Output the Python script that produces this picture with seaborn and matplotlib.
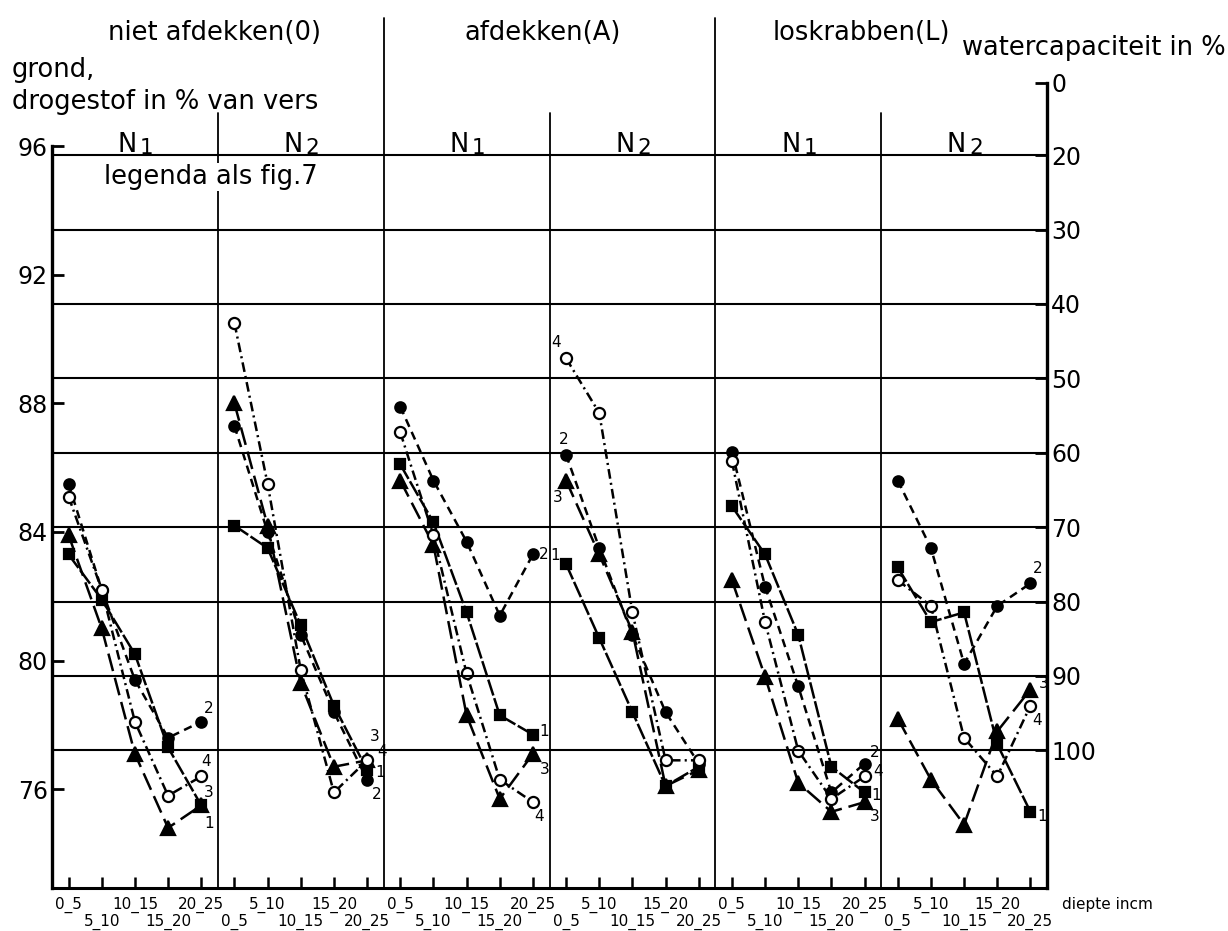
import numpy as np
import pandas as pd
import matplotlib
matplotlib.use("Agg")
import matplotlib.pyplot as plt
import matplotlib.transforms as mtransforms
import seaborn as sns

# ---- data -------------------------------------------------------------
depths = ["0_5", "5_10", "10_15", "15_20", "20_25"]
treatments = ["niet afdekken(0)", "afdekken(A)", "loskrabben(L)"]
n_levels = ["1", "2"]

# dry matter of the soil (% of fresh weight); one row per panel
# panel order: 0-N1, 0-N2, A-N1, A-N2, L-N1, L-N2 ; columns = depth layers
series_1 = [
    [83.3, 81.9, 80.2, 77.3, 75.5],
    [84.2, 83.5, 81.1, 78.6, 76.6],
    [86.1, 84.3, 81.5, 78.3, 77.7],
    [83.0, 80.7, 78.4, 76.1, 76.7],
    [84.8, 83.3, 80.8, 76.7, 75.9],
    [82.9, 81.2, 81.5, 77.4, 75.3],
]
series_2 = [
    [85.5, 82.2, 79.4, 77.6, 78.1],
    [87.3, 84.0, 80.8, 78.4, 76.3],
    [87.9, 85.6, 83.7, 81.4, 83.3],
    [86.4, 83.5, 80.8, 78.4, 76.8],
    [86.5, 82.3, 79.2, 75.9, 76.8],
    [85.6, 83.5, 79.9, 81.7, 82.4],
]
series_3 = [
    [83.9, 81.0, 77.1, 74.8, 75.5],
    [88.0, 84.2, 79.3, 76.7, 76.9],
    [85.6, 83.6, 78.3, 75.7, 77.1],
    [85.6, 83.3, 80.9, 76.1, 76.6],
    [82.5, 79.5, 76.2, 75.3, 75.6],
    [78.2, 76.3, 74.9, 77.8, 79.1],
]
series_4 = [
    [85.1, 82.2, 78.1, 75.8, 76.4],
    [90.5, 85.5, 79.7, 75.9, 76.9],
    [87.1, 83.9, 79.6, 76.3, 75.6],
    [89.4, 87.7, 81.5, 76.9, 76.9],
    [86.2, 81.2, 77.2, 75.7, 76.4],
    [82.5, 81.7, 77.6, 76.4, 78.6],
]

dm_ticks = [76, 80, 84, 88, 92, 96]
wc_ticks = [20, 30, 40, 50, 60, 70, 80, 90, 100]

# ---- long table ---------------------------------------------------------
rows = []
for sname, table in zip(["1", "2", "3", "4"], [series_1, series_2, series_3, series_4]):
    for p, vals in enumerate(table):
        for d, v in enumerate(vals):
            rows.append({"series": sname, "panel": p, "pos": p * 5 + d, "value": v})
df = pd.DataFrame(rows)

# ---- style --------------------------------------------------------------
sns.set_theme(style="white")
plt.rcParams["font.family"] = ["DejaVu Sans"]
plt.rcParams["mathtext.fontset"] = "dejavusans"
plt.rcParams["lines.scale_dashes"] = False
plt.rcParams["text.color"] = "black"
plt.rcParams["xtick.color"] = "black"
plt.rcParams["ytick.color"] = "black"

W, H = 1228, 931
fig = plt.figure(figsize=(W / 100, H / 100), dpi=100)
fig.patch.set_facecolor("white")

# axes box in pixels: left 52, right 1047, bottom 888, top 83
L, R, B, T = 52, 1047, 888, 83
ax = fig.add_axes([L / W, (H - B) / H, (R - L) / W, (B - T) / H])
ax.set_facecolor("white")

ax.set_xlim(-0.5, 29.5)
ax.set_ylim(72.93, 97.96)

line_styles = {
    "1": dict(marker="s", markersize=7.5, markerfacecolor="black", linestyle=(0, (12, 2))),
    "2": dict(marker="o", markersize=7.5, markerfacecolor="black", linestyle=(0, (6, 4))),
    "3": dict(marker="^", markersize=10, markerfacecolor="black", linestyle=(0, (13, 5))),
    "4": dict(marker="o", markersize=8, markerfacecolor="white", linestyle=(0, (7, 3, 1.5, 3))),
}
for sname, kw in line_styles.items():
    sns.lineplot(
        data=df[df["series"] == sname], x="pos", y="value", units="panel",
        estimator=None, color="black", linewidth=1.8,
        markeredgecolor="black", markeredgewidth=1.6, ax=ax, zorder=5, **kw,
    )

# series numbers written next to a curve end
label_spots = [
    (0, "2", 4, 7, 13), (0, "4", 4, 5, 15), (0, "3", 4, 7, 13), (0, "1", 4, 8, -18),
    (1, "3", 4, 8, 24), (1, "4", 4, 15, 9), (1, "1", 4, 13, -3), (1, "2", 4, 10, -15),
    (2, "2", 4, 11, 0), (2, "1", 4, 11, 3), (2, "3", 4, 12, -16), (2, "4", 4, 6, -14),
    (3, "4", 0, -10, 16), (3, "2", 0, -2, 15), (3, "3", 0, -8, -17), (3, "1", 0, -11, 9),
    (4, "2", 4, 10, 11), (4, "4", 4, 13, 5), (4, "1", 4, 12, -3), (4, "3", 4, 10, -14),
    (5, "2", 4, 7, 15), (5, "3", 4, 13, 6), (5, "4", 4, 7, -15), (5, "1", 4, 12, -5),
]
tables = {"1": series_1, "2": series_2, "3": series_3, "4": series_4}
for p, s, d, dx, dy in label_spots:
    ax.annotate(s, xy=(p * 5 + d, tables[s][p][d]), xytext=(dx, dy),
                textcoords="offset pixels", ha="center", va="center",
                fontsize=11, zorder=6)

# ---- axes and frame -------------------------------------------------------
ax.set_xlabel("")
ax.set_ylabel("")
if ax.legend_ is not None:
    ax.legend_.remove()
for side in ["top", "right"]:
    ax.spines[side].set_visible(False)
ax.spines["left"].set_linewidth(2.4)
ax.spines["bottom"].set_linewidth(2.2)
ax.spines["left"].set_color("black")
ax.spines["bottom"].set_color("black")
ax.spines["left"].set_bounds(72.93, 96)

ax.set_yticks(dm_ticks)
ax.set_yticklabels([str(t) for t in dm_ticks])
ax.tick_params(axis="y", direction="in", length=8.5, width=2, labelsize=17,
               pad=3, colors="black", left=True)

# depth labels alternate between two rows
even_pos = list(range(0, 30, 2))
odd_pos = list(range(1, 30, 2))
ax.set_xticks(even_pos)
ax.set_xticklabels([depths[i % 5] for i in even_pos])
ax.set_xticks(odd_pos, minor=True)
ax.set_xticklabels([depths[i % 5] for i in odd_pos], minor=True)
ax.tick_params(axis="x", which="both", direction="in", length=8, width=1.8,
               labelsize=11, colors="black", bottom=True)
ax.tick_params(axis="x", which="major", pad=6)
ax.tick_params(axis="x", which="minor", pad=18.5)

# water-capacity scale on the right (broken between 0 and 20)
wc_axis_top = 10.3
ax2 = ax.twinx()
ax2.set_ylim(118.5, wc_axis_top)
for side in ["top", "left", "bottom"]:
    ax2.spines[side].set_visible(False)
ax2.spines["right"].set_linewidth(2.4)
ax2.spines["right"].set_color("black")
ax2.set_yticks([wc_axis_top] + wc_ticks)
ax2.set_yticklabels(["0"] + [str(t) for t in wc_ticks])
ax2.tick_params(axis="y", direction="in", length=8.5, width=2, labelsize=17,
                pad=3, colors="black", right=True)
ax2.grid(False)
ax.grid(False)
for w in wc_ticks:
    ax2.axhline(w, color="black", linewidth=1.5, zorder=1)

# panel separators
blend = mtransforms.blended_transform_factory(ax.transData, ax.transAxes)
for xs in [4.5, 14.5, 24.5]:
    ax.axvline(xs, ymin=0, ymax=(B - 113) / (B - T), color="black",
               linewidth=1.3, clip_on=False)
for xs in [9.5, 19.5]:
    ax.axvline(xs, ymin=0, ymax=(B - 18) / (B - T), color="black",
               linewidth=1.3, clip_on=False)

# headers
head_y = (B - 33) / (B - T)
for xc, name in zip([4.4, 14.3, 23.9], treatments):
    ax.text(xc, head_y, name, transform=blend, ha="center", va="center",
            fontsize=18.5)
n_y = (B - 145) / (B - T)
for p in range(6):
    ax.annotate("N", xy=(p * 5 + 2, n_y), xycoords=blend, xytext=(2, 0),
                textcoords="offset pixels", ha="right", va="center", fontsize=18.5)
    ax.annotate(n_levels[p % 2], xy=(p * 5 + 2, n_y), xycoords=blend,
                xytext=(5, -3), textcoords="offset pixels", ha="left",
                va="center", fontsize=15.5)

ax.text(4.3, (B - 177) / (B - T), "legenda als fig.7", transform=blend,
        ha="center", va="center", fontsize=18.5,
        bbox=dict(facecolor="white", edgecolor="none", pad=1))

fig.text(12 / W, 1 - 70 / H, "grond,", ha="left", va="center", fontsize=18.5)
fig.text(12 / W, 1 - 102 / H, "drogestof in % van vers", ha="left",
         va="center", fontsize=18.5)
fig.text(1226 / W, 1 - 48 / H, "watercapaciteit in %", ha="right",
         va="center", fontsize=18.5)
ax.text((1062 - L) / (R - L), (B - 905) / (B - T), "diepte incm",
        transform=ax.transAxes, ha="left", va="center", fontsize=11)

fig.savefig("out.png", dpi=100, facecolor="white")
